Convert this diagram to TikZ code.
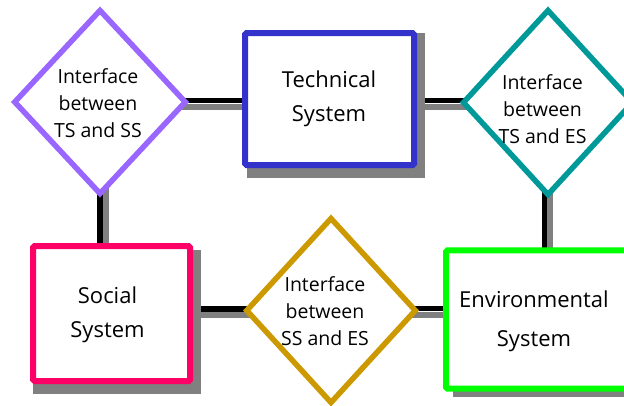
\documentclass[tikz,border=0pt]{standalone}
\usepackage{fontspec}
\setmainfont{Open Sans}
\usetikzlibrary{shapes.geometric,calc}
\pgfdeclarelayer{back}
\pgfsetlayers{back,main}
\definecolor{cpurple}{HTML}{9966FF}
\definecolor{cblue}{HTML}{3333CC}
\definecolor{cteal}{HTML}{009999}
\definecolor{cpink}{HTML}{FF0066}
\definecolor{cgold}{HTML}{CC9900}
\definecolor{cgreen}{HTML}{00FF00}
\definecolor{cshadow}{HTML}{808080}
\tikzset{
  sysbox/.style={draw, line width=6pt, fill=white, rounded corners=1.5pt, inner sep=0pt, outer sep=0pt},
  ifdiamond/.style={diamond, draw, line width=5.5pt, fill=white, inner sep=0pt, outer sep=0pt, miter limit=10},
  boxtext/.style={inner sep=0pt, align=center, font=\fontsize{22}{34}\selectfont},
  dtext/.style={inner sep=0pt, align=center, font=\fontsize{19.5}{27}\selectfont},
  blk/.style={line width=5.5pt, black},
  gry/.style={line width=6pt, cshadow},
  boxshadow/.style={fill=cshadow}
}
\begin{document}
\begin{tikzpicture}[x=1pt,y=-1pt]
\useasboundingbox (0,0) rectangle (624,405);
\clip (0,0) rectangle (624,405);

% nodes
\node[ifdiamond, draw=cpurple, minimum width=170.5pt, minimum height=183pt] (d1) at (100,102) {};
\node[ifdiamond, draw=cteal, minimum width=169pt, minimum height=184pt] (d2) at (548,102.5) {};
\node[ifdiamond, draw=cgold, minimum width=168.5pt, minimum height=184pt] (d3) at (331,310.5) {};
\node[sysbox, draw=cblue, minimum width=169pt, minimum height=132pt] (ts) at (329.5,99) {};
\node[sysbox, draw=cpink, minimum width=157pt, minimum height=135pt] (ss) at (111.5,313.5) {};
\node[sysbox, draw=cgreen, minimum width=190pt, minimum height=138.4pt] (es) at (541,319.5) {};

% texts
\node[boxtext] (tst) at (329,98.3) {Technical\\System};
\node[boxtext] (sst) at (107.5,314.3) {Social\\System};
\node[boxtext, font=\fontsize{22}{39}\selectfont] (est) at (534,320.8) {Environmental\\System};
\node[dtext] (d1t) at (98,103.6) {Interface\\between\\TS and SS};
\node[dtext] (d2t) at (542.5,108.9) {Interface\\between\\TS and ES};
\node[dtext] (d3t) at (325,311.3) {Interface\\between\\SS and ES};

\begin{pgfonlayer}{back}
  % connectors: gray shadow lines
  \draw[gry] ($(d1.center)+(0,4.7)$) -- ($(d1.center -| ts.center)+(0,4.7)$);
  \draw[gry] ($(ts.center |- d2.center)+(0,4.2)$) -- ($(d2.center)+(0,4.2)$);
  \draw[gry] ($(ss.center |- d3.center)+(0,4.5)$) -- ($(d3.center)+(0,4.5)$);
  \draw[gry] ($(d3.center)+(0,4.5)$) -- ($(d3.center -| es.center)+(0,4.5)$);
  \draw[gry] ($(d1.center)+(6,0)$) -- ($(d1.center |- ss.center)+(6,0)$);
  \draw[gry] ($(d2.center)+(2,0)$) -- ($(d2.center |- es.center)+(2,0)$);
  % connectors: black lines
  \draw[blk] ($(d1.center)+(0,-1.5)$) -- ($(d1.center -| ts.center)+(0,-1.5)$);
  \draw[blk] ($(ts.center |- d2.center)+(0,-2)$) -- ($(d2.center)+(0,-2)$);
  \draw[blk] ($(ss.center |- d3.center)+(0,-1.3)$) -- ($(d3.center)+(0,-1.3)$);
  \draw[blk] ($(d3.center)+(0,-2)$) -- ($(d3.center -| es.center)+(0,-2)$);
  \draw[blk] ($(d1.center)+(0,0)$) -- ($(d1.center |- ss.center)+(0,0)$);
  \draw[blk] ($(d2.center)+(-3.5,0)$) -- ($(d2.center |- es.center)+(-3.5,0)$);
  % box shadows
  \fill[boxshadow] ($(ts.north west)+(2,0)$) rectangle ($(ts.south east)+(11,13)$);
  \fill[boxshadow] ($(ss.north west)+(0,4)$) rectangle ($(ss.south east)+(11,13)$);
  \fill[boxshadow] ($(es.north west)+(7,4)$) rectangle ($(es.south east)+(11,8.3)$);
\end{pgfonlayer}
\end{tikzpicture}
\end{document}
